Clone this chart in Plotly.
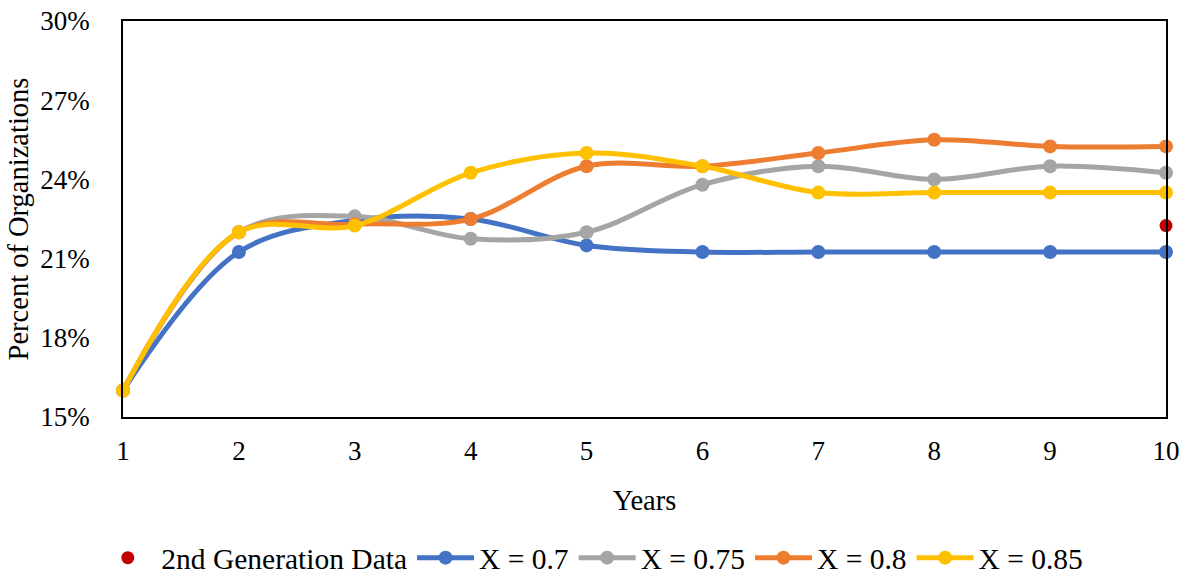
import plotly.graph_objects as go

years = [1, 2, 3, 4, 5, 6, 7, 8, 9, 10]

# Percent of organizations per simulated scenario
x_070 = [16.0, 21.25, 22.45, 22.5, 21.5, 21.25, 21.25, 21.25, 21.25, 21.25]
x_075 = [16.0, 22.0, 22.6, 21.75, 22.0, 23.8, 24.5, 24.0, 24.5, 24.25]
x_080 = [16.0, 22.0, 22.3, 22.5, 24.5, 24.5, 25.0, 25.5, 25.25, 25.25]
x_085 = [16.0, 22.0, 22.25, 24.25, 25.0, 24.5, 23.5, 23.5, 23.5, 23.5]

# Observed second-generation value
gen2_year = [10]
gen2_value = [22.25]

y_ticks = [15, 18, 21, 24, 27, 30]
y_tick_labels = [f"{v}%" for v in y_ticks]

FONT = "Liberation Serif, Times New Roman, serif"

fig = go.Figure()

fig.add_trace(go.Scatter(
    x=gen2_year, y=gen2_value, mode="markers", name="2nd Generation Data",
    marker=dict(color="#C00000", size=13), cliponaxis=False,
))

series = [
    ("X = 0.7", x_070, "#4472C4"),
    ("X = 0.75", x_075, "#A5A5A5"),
    ("X = 0.8", x_080, "#ED7D31"),
    ("X = 0.85", x_085, "#FFC000"),
]
for name, vals, color in series:
    fig.add_trace(go.Scatter(
        x=years, y=vals, mode="lines+markers", name=name,
        line=dict(color=color, width=5, shape="spline", smoothing=1),
        marker=dict(color=color, size=14),
        cliponaxis=False,
    ))

fig.update_layout(
    width=1190, height=576,
    margin=dict(l=123, r=24, t=21, b=159, autoexpand=False),
    paper_bgcolor="white", plot_bgcolor="white",
    font=dict(family=FONT, size=27, color="black"),
    showlegend=True,
    legend=dict(
        orientation="h", x=0.449, xanchor="center",
        y=-0.356, yanchor="middle", itemwidth=57,
        font=dict(family=FONT, size=29.5, color="black"),
        tracegroupgap=0, itemclick=False,
    ),
)

fig.update_xaxes(
    range=[1, 10], tickvals=years, showgrid=False, zeroline=False,
    showline=True, linecolor="black", linewidth=1.5, mirror=True,
    ticks="", ticklabelstandoff=9,
    title=dict(text="Years", standoff=25, font=dict(size=28.5)),
)

fig.update_yaxes(
    range=[15, 30], tickvals=y_ticks, ticktext=y_tick_labels,
    showgrid=False, zeroline=False,
    showline=True, linecolor="black", linewidth=1.5, mirror=True,
    ticks="", ticklabelstandoff=26,
    title=dict(text="Percent of Organizations", standoff=3, font=dict(size=28.5)),
)

fig.write_html("out.html")
